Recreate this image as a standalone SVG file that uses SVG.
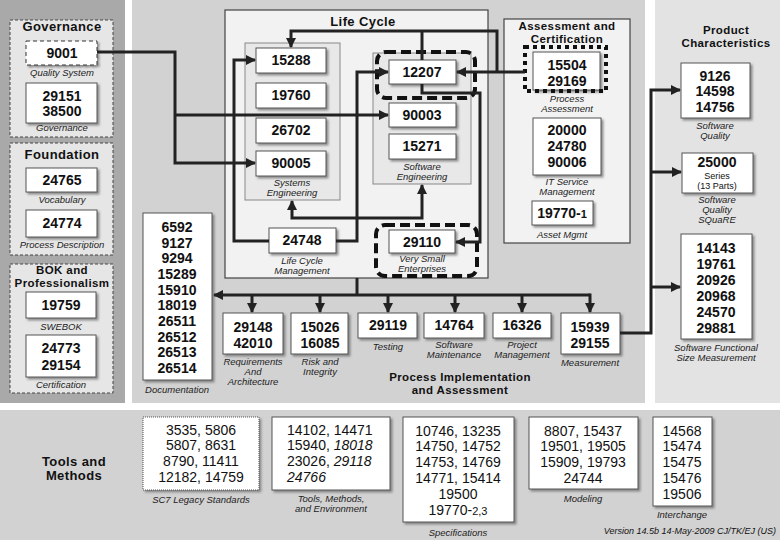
<svg xmlns="http://www.w3.org/2000/svg" width="780" height="540" viewBox="0 0 780 540">
<defs>
<style>
text{font-family:"Liberation Sans",Arial,sans-serif;fill:#111}
.n{font-size:14px;font-weight:bold;text-anchor:middle}
.t{font-size:13px;font-weight:bold;text-anchor:middle;letter-spacing:0.4px}
.t2{font-size:11.5px;font-weight:bold;text-anchor:middle;letter-spacing:0.4px}
.l{font-size:9.5px;font-style:italic;text-anchor:middle;fill:#222}
.m{font-size:14px;text-anchor:middle}
.box{fill:#fff;stroke:#555;stroke-width:1;filter:url(#sh)}
.grp{fill:#e6e6e6;stroke:#444;stroke-width:1;stroke-dasharray:3 2}
.sub{fill:#e8e8e8;stroke:#888;stroke-width:1}
.big{fill:#f2f2f2;stroke:#444;stroke-width:1.2}
.dash{fill:none;stroke:#111;stroke-width:4;stroke-dasharray:10 5}
.c{fill:none;stroke:#222;stroke-width:3}
.ca{fill:none;stroke:#222;stroke-width:3;marker-end:url(#ah)}
</style>
<filter id="sh" x="-10%" y="-10%" width="130%" height="130%">
<feDropShadow dx="2" dy="2" stdDeviation="1" flood-color="#666" flood-opacity="0.7"/>
</filter>
<marker id="ah" viewBox="0 0 10 10" refX="9" refY="5" markerWidth="10" markerHeight="10" markerUnits="userSpaceOnUse" orient="auto">
<path d="M0,0 L10,5 L0,10 Z" fill="#222"/>
</marker>
</defs>
<rect width="780" height="540" fill="#fff"/>
<g id="panels">
<rect x="0" y="0" width="125" height="403" fill="#a9a9a9"/>
<rect x="132" y="0" width="513" height="403" fill="#d2d2d2"/>
<rect x="655" y="0" width="125" height="403" fill="#e3e3e3"/>
<rect x="0" y="410" width="780" height="130" fill="#d2d2d2"/>
</g>

<g id="governance">
<rect class="grp" x="10" y="20" width="103" height="117"/>
<text class="t" x="62" y="31">Governance</text>
</g>
<g id="n9001">
<rect class="box" x="26" y="41" width="71" height="24" style="stroke-dasharray:4 3;stroke:#333"/>
<text class="n" x="62" y="58">9001</text>
<text class="l" x="62" y="76">Quality System</text>
</g>
<g id="n29151">
<rect class="box" x="26" y="83" width="71" height="40"/>
<text class="n" x="62" y="101">29151</text>
<text class="n" x="62" y="116">38500</text>
<text class="l" x="62" y="131">Governance</text>
</g>
<g id="foundation">
<rect class="grp" x="10" y="143" width="103" height="112"/>
<text class="t" x="62" y="159">Foundation</text>
</g>
<g id="n24765">
<rect class="box" x="26" y="168" width="71" height="24"/>
<text class="n" x="62" y="185">24765</text>
<text class="l" x="62" y="203">Vocabulary</text>
</g>
<g id="n24774">
<rect class="box" x="26" y="210" width="71" height="27"/>
<text class="n" x="62" y="228">24774</text>
<text class="l" x="62" y="248">Process Description</text>
</g>
<g id="bok">
<rect class="grp" x="10" y="264" width="103" height="129"/>
<text class="t2" x="62" y="274">BOK and</text>
<text class="t2" x="62" y="287">Professionalism</text>
</g>
<g id="n19759">
<rect class="box" x="26" y="292" width="70" height="26"/>
<text class="n" x="61" y="310">19759</text>
<text class="l" x="61" y="330">SWEBOK</text>
</g>
<g id="n24773">
<rect class="box" x="26" y="335" width="70" height="42"/>
<text class="n" x="61" y="353">24773</text>
<text class="n" x="61" y="370">29154</text>
<text class="l" x="61" y="388">Certification</text>
</g>

<g id="lifecycle">
<rect class="big" x="225" y="10" width="263" height="268"/>
<text class="t" x="363" y="26">Life Cycle</text>
</g>
<g id="systemsEng">
<rect class="sub" x="245" y="43" width="95" height="157"/>
<text class="l" x="292" y="186">Systems</text>
<text class="l" x="292" y="196">Engineering</text>
</g>
<g id="n15288"><rect class="box" x="256" y="48" width="70" height="25"/><text class="n" x="291" y="65">15288</text></g>
<g id="n19760"><rect class="box" x="256" y="83" width="70" height="25"/><text class="n" x="291" y="100">19760</text></g>
<g id="n26702"><rect class="box" x="256" y="118" width="70" height="25"/><text class="n" x="291" y="135">26702</text></g>
<g id="n90005"><rect class="box" x="256" y="151" width="70" height="25"/><text class="n" x="291" y="168">90005</text></g>
<g id="softwareEng">
<rect class="sub" x="373" y="53" width="98" height="131"/>
<text class="l" x="422" y="170">Software</text>
<text class="l" x="422" y="180">Engineering</text>
</g>
<g id="n12207"><rect class="box" x="389" y="60" width="67" height="24"/><text class="n" x="422" y="77">12207</text>
<rect class="dash" x="377" y="52" width="98" height="46" rx="9"/></g>
<g id="n90003"><rect class="box" x="389" y="103" width="67" height="24"/><text class="n" x="422" y="120">90003</text></g>
<g id="n15271"><rect class="box" x="389" y="134" width="67" height="25"/><text class="n" x="422" y="151">15271</text></g>
<g id="n24748"><rect class="box" x="269" y="228" width="67" height="25"/><text class="n" x="302" y="245">24748</text>
<text class="l" x="302" y="264">Life Cycle</text><text class="l" x="302" y="274">Management</text></g>
<g id="n29110"><rect class="dash" x="376" y="225" width="101" height="51" rx="9"/>
<rect class="box" x="389" y="230" width="66" height="23"/><text class="n" x="422" y="247">29110</text>
<text class="l" x="422" y="262">Very Small</text><text class="l" x="422" y="271.5">Enterprises</text></g>

<g id="assessment">
<rect class="big" x="504" y="19" width="126" height="224"/>
<text class="t2" x="567" y="30">Assessment and</text>
<text class="t2" x="567" y="43">Certification</text>
</g>
<g id="n15504">
<rect class="box" x="533" y="52" width="67" height="38"/>
<rect x="525" y="47" width="81" height="44" fill="none" stroke="#111" stroke-width="4" stroke-dasharray="4 4"/>
<text class="n" x="567" y="70">15504</text><text class="n" x="567" y="86">29169</text>
<text class="l" x="567" y="102">Process</text><text class="l" x="567" y="112">Assessment</text>
</g>
<g id="n20000">
<rect class="box" x="533" y="118" width="68" height="57"/>
<text class="n" x="567" y="135">20000</text><text class="n" x="567" y="151">24780</text><text class="n" x="567" y="167">90006</text>
<text class="l" x="567" y="185">IT Service</text><text class="l" x="567" y="195">Management</text>
</g>
<g id="n19770-1">
<rect class="box" x="532" y="201" width="61" height="24"/>
<text class="n" x="562" y="218">19770-<tspan font-size="11">1</tspan></text>
<text class="l" x="562" y="238">Asset Mgmt</text>
</g>

<g id="nDoc">
<rect class="box" x="143" y="213" width="69" height="167"/>
<text class="n" x="177" y="232">6592</text>
<text class="n" x="177" y="248">9127</text>
<text class="n" x="177" y="263">9294</text>
<text class="n" x="177" y="279">15289</text>
<text class="n" x="177" y="295">15910</text>
<text class="n" x="177" y="310">18019</text>
<text class="n" x="177" y="326">26511</text>
<text class="n" x="177" y="342">26512</text>
<text class="n" x="177" y="357">26513</text>
<text class="n" x="177" y="373">26514</text>
<text class="l" x="177" y="393">Documentation</text>
</g>
<g id="n29148"><rect class="box" x="223" y="313" width="60" height="41"/>
<text class="n" x="253" y="332">29148</text><text class="n" x="253" y="348">42010</text>
<text class="l" x="253" y="365">Requirements</text><text class="l" x="253" y="375">And</text><text class="l" x="253" y="385">Architecture</text></g>
<g id="n15026"><rect class="box" x="291" y="313" width="57" height="41"/>
<text class="n" x="320" y="332">15026</text><text class="n" x="320" y="348">16085</text>
<text class="l" x="320" y="365">Risk and</text><text class="l" x="320" y="375">Integrity</text></g>
<g id="n29119"><rect class="box" x="358" y="313" width="59" height="25"/>
<text class="n" x="388" y="330">29119</text><text class="l" x="388" y="350">Testing</text></g>
<g id="n14764"><rect class="box" x="424" y="313" width="60" height="25"/>
<text class="n" x="454" y="330">14764</text><text class="l" x="454" y="348">Software</text><text class="l" x="454" y="358">Maintenance</text></g>
<g id="n16326"><rect class="box" x="493" y="313" width="58" height="25"/>
<text class="n" x="522" y="330">16326</text><text class="l" x="522" y="348">Project</text><text class="l" x="522" y="358">Management</text></g>
<g id="n15939"><rect class="box" x="561" y="313" width="59" height="41"/>
<text class="n" x="590" y="332">15939</text><text class="n" x="590" y="348">29155</text>
<text class="l" x="590" y="366">Measurement</text></g>
<g id="processImpl">
<text class="t2" x="460" y="381">Process Implementation</text>
<text class="t2" x="460" y="394">and Assessment</text>
</g>

<g id="product">
<text class="t2" x="726" y="34">Product</text>
<text class="t2" x="726" y="47">Characteristics</text>
</g>
<g id="n9126"><rect class="box" x="681" y="63" width="69" height="55"/>
<text class="n" x="715" y="81">9126</text><text class="n" x="715" y="96">14598</text><text class="n" x="715" y="112">14756</text>
<text class="l" x="715" y="129">Software</text><text class="l" x="715" y="139">Quality</text></g>
<g id="n25000"><rect class="box" x="682" y="153" width="71" height="40"/>
<text class="n" x="717" y="167">25000</text>
<text x="717" y="179" font-size="9" text-anchor="middle">Series</text>
<text x="717" y="189" font-size="9" text-anchor="middle">(13 Parts)</text>
<text class="l" x="717" y="203">Software</text><text class="l" x="717" y="213">Quality</text><text class="l" x="717" y="223">SQuaRE</text></g>
<g id="n14143"><rect class="box" x="681" y="234" width="71" height="105"/>
<text class="n" x="716" y="253">14143</text><text class="n" x="716" y="269">19761</text><text class="n" x="716" y="285">20926</text>
<text class="n" x="716" y="301">20968</text><text class="n" x="716" y="317">24570</text><text class="n" x="716" y="333">29881</text>
<text class="l" x="716" y="351">Software Functional</text><text class="l" x="716" y="361">Size Measurement</text></g>

<g id="tools">
<text class="t" x="74" y="466">Tools and</text>
<text class="t" x="74" y="480">Methods</text>
</g>
<g id="nLegacy"><rect class="box" x="143" y="417" width="116" height="73" style="stroke-dasharray:1 1"/>
<text class="m" x="201" y="435">3535, 5806</text><text class="m" x="201" y="450">5807, 8631</text>
<text class="m" x="201" y="466">8790, 11411</text><text class="m" x="201" y="482">12182, 14759</text>
<text class="l" x="201" y="503">SC7 Legacy Standards</text></g>
<g id="nToolsEnv"><rect class="box" x="272" y="417" width="118" height="73"/>
<text x="287" y="435" font-size="14">14102, 14471</text>
<text x="287" y="450" font-size="14">15940, <tspan font-style="italic">18018</tspan></text>
<text x="287" y="466" font-size="14">23026, <tspan font-style="italic">29118</tspan></text>
<text x="287" y="482" font-size="14" font-style="italic">24766</text>
<text class="l" x="331" y="502">Tools, Methods,</text><text class="l" x="331" y="512">and Environment</text></g>
<g id="nSpec"><rect class="box" x="403" y="417" width="111" height="105"/>
<text class="m" x="458" y="436">10746, 13235</text><text class="m" x="458" y="451">14750, 14752</text>
<text class="m" x="458" y="467">14753, 14769</text><text class="m" x="458" y="483">14771, 15414</text>
<text class="m" x="458" y="499">19500</text><text class="m" x="458" y="515">19770-<tspan font-size="11">2,3</tspan></text>
<text class="l" x="458" y="536">Specifications</text></g>
<g id="nModeling"><rect class="box" x="529" y="417" width="109" height="72"/>
<text class="m" x="583" y="436">8807, 15437</text><text class="m" x="583" y="451">19501, 19505</text>
<text class="m" x="583" y="467">15909, 19793</text><text class="m" x="583" y="483">24744</text>
<text class="l" x="583" y="502">Modeling</text></g>
<g id="nInterchange"><rect class="box" x="653" y="417" width="59" height="89"/>
<text class="m" x="682" y="436">14568</text><text class="m" x="682" y="451">15474</text>
<text class="m" x="682" y="467">15475</text><text class="m" x="682" y="483">15476</text><text class="m" x="682" y="499">19506</text>
<text class="l" x="682" y="518">Interchange</text></g>
<text x="776" y="534" font-size="9" font-style="italic" text-anchor="end" fill="#444">Version 14.5b 14-May-2009  CJ/TK/EJ (US)</text>

<g id="connectors">
<path class="ca" d="M97,52 H175 V163 H255"/>
<path class="ca" d="M175,115 H388"/>
<path class="ca" d="M525,72 H457"/>
<path class="ca" d="M497,72 V31 H291 V47"/>
<path class="c" d="M422,60 V31"/>
<path class="ca" d="M422,84 V93 H480 V242 H456"/>
<path class="ca" d="M269,241 H234 V60 H255"/>
<path class="ca" d="M336,241 H357 V72 H388"/>
<path class="ca" d="M357,218 H292 V201"/>
<path class="ca" d="M357,218 H422 V185"/>
<path class="c" d="M357,278 V295"/>
<path class="ca" d="M590,295 H214"/>
<path class="ca" d="M252,295 V312"/>
<path class="ca" d="M320,295 V312"/>
<path class="ca" d="M388,295 V312"/>
<path class="ca" d="M455,295 V312"/>
<path class="ca" d="M522,295 V312"/>
<path class="ca" d="M590,293.5 V312"/>
<path class="ca" d="M620,333 H651 V90 H680"/>
<path class="ca" d="M651,172 H681"/>
<path class="ca" d="M651,287 H680"/>
</g>
</svg>
